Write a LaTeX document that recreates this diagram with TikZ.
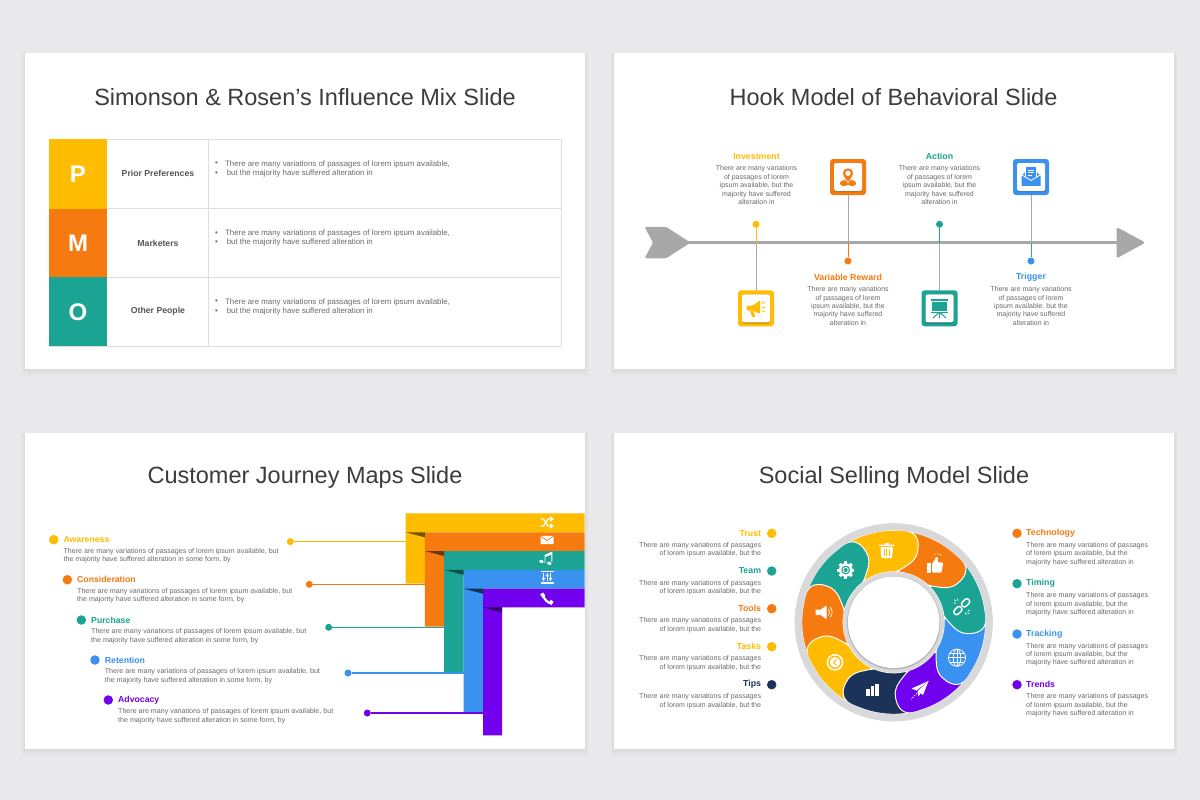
\documentclass[tikz,border=0pt]{standalone}
\usepackage{fontspec}
\setmainfont{Liberation Sans}
\usetikzlibrary{calc}
\definecolor{cY}{HTML}{FFBC00}
\definecolor{cO}{HTML}{F57A10}
\definecolor{cT}{HTML}{1BA393}
\definecolor{cB}{HTML}{3A92F0}
\definecolor{cP}{HTML}{7000EE}
\definecolor{cN}{HTML}{1B3358}
\definecolor{cG}{HTML}{A8A8A8}
\definecolor{cBody}{HTML}{6A6A6F}
\definecolor{cHead}{HTML}{3C3C3E}
\definecolor{cLab}{HTML}{55555A}
\definecolor{cRule}{HTML}{DEDEE0}
\definecolor{cPage}{HTML}{E9E8EA}
\definecolor{cRing}{HTML}{D9D9DB}
\tikzset{
  title/.style={inner sep=0pt,anchor=center,text=cHead,font=\fontsize{23.5}{28}\selectfont},
  letter/.style={inner sep=0pt,text=white,font=\bfseries\fontsize{24}{26}\selectfont},
  rowlab/.style={inner sep=0pt,text=cLab,font=\bfseries\fontsize{8.7}{11}\selectfont},
  rowtxt/.style={inner sep=0pt,anchor=west,text=cBody,font=\fontsize{7.85}{9.3}\selectfont},
  hooktxt/.style={inner sep=0pt,align=center,text=cBody,font=\fontsize{7}{8.45}\selectfont},
  hookhead/.style={inner sep=0pt,font=\bfseries\fontsize{8.8}{11}\selectfont},
  hookbox/.style={rounded corners=3pt,minimum size=36pt,inner sep=0pt},
  hookin/.style={fill=white,rounded corners=1.5pt,minimum size=28pt,inner sep=0pt},
  dot/.style={circle,inner sep=0pt,minimum size=#1},
  dot/.default=7pt,
  jhead/.style={inner sep=0pt,anchor=west,font=\bfseries\fontsize{8.7}{11}\selectfont},
  jtxt/.style={inner sep=0pt,anchor=west,align=left,text=cBody,font=\fontsize{7.1}{8.7}\selectfont},
  shead/.style={inner sep=0pt,font=\bfseries\fontsize{8.8}{11}\selectfont},
  stxtl/.style={inner sep=0pt,anchor=east,align=right,text=cBody,font=\fontsize{7.05}{8.4}\selectfont},
  stxtr/.style={inner sep=0pt,anchor=west,align=left,text=cBody,font=\fontsize{7.05}{8.4}\selectfont},
}
% slide card with a soft shadow
\newcommand\card[4]{%
  \foreach \o/\k in {8/3,6/4,4/5,2/6}{\fill[black,opacity=.003*\k] (#1-\o/2,#2) rectangle (#3+\o/2,#4+\o);}
  \fill[white] (#1,#2) rectangle (#3,#4);}
% petal of the ring
\def\rc{893.7}\def\rd{622.3}
\newcommand\petalpath[1]{%
  plot[domain=-38:3,samples=24] ({\rc+92*cos(\x+#1-90)},{\rd+92*sin(\x+#1-90)})
  -- plot[smooth,tension=.7] coordinates {
   ({\rc+92*cos(3+#1-90)},{\rd+92*sin(3+#1-90)})
   ({\rc+92*cos(10+#1-90)},{\rd+92*sin(10+#1-90)})
   ({\rc+87*cos(15.5+#1-90)},{\rd+87*sin(15.5+#1-90)})
   ({\rc+76*cos(18.5+#1-90)},{\rd+76*sin(18.5+#1-90)})
   ({\rc+65*cos(17.5+#1-90)},{\rd+65*sin(17.5+#1-90)})
   ({\rc+54.5*cos(9+#1-90)},{\rd+54.5*sin(9+#1-90)})
   ({\rc+50.5*cos(2+#1-90)},{\rd+50.5*sin(2+#1-90)})}
  -- plot[domain=2:-34,samples=20] ({\rc+50.5*cos(\x+#1-90)},{\rd+50.5*sin(\x+#1-90)}) -- cycle}
\newcommand\petal[2]{\fill[#2,draw=white,line width=1pt,line join=round] \petalpath{#1};}
% icons
\newcommand\icoShuffle[1]{\begin{scope}[shift={#1},white,line width=1.3pt]
  \draw (-6.5,-3.5)--(-3.5,-3.5)--(1,3.5)--(3.5,3.5);
  \draw (-6.5,3.5)--(-3.5,3.5)--(1,-3.5)--(3.5,-3.5);
  \fill (3,-6.3)--(6.8,-3.5)--(3,-.8)--cycle;
  \fill (3,.8)--(6.8,3.5)--(3,6.3)--cycle;
\end{scope}}
\newcommand\icoMail[1]{\begin{scope}[shift={#1}]
  \fill[white,rounded corners=.5pt] (-6.5,-4.2) rectangle (6.5,4.2);
  \draw[cO,line width=.7pt] (-6.5,-4)--(0,.6)--(6.5,-4);
\end{scope}}
\newcommand\icoMusic[1]{\begin{scope}[shift={#1},white]
  \fill[rotate=-15] (-4.5,4.8) ellipse (2.2 and 1.6);
  \fill[rotate=-15] (3.6,4.5) ellipse (2.2 and 1.6);
  \fill (-2.5,5) -- (-2.5,-3) -- (5.3,-6.5) -- (5.3,3.5) -- (4.4,3.5) -- (4.4,-3.5) -- (-1.6,-1) -- (-1.6,5) -- cycle;
\end{scope}}
\newcommand\icoSliders[1]{\begin{scope}[shift={#1},white]
  \fill (-6.5,5) rectangle (6.5,6.6);
  \draw[line width=.6pt] (-6.5,-6)--(6.5,-6);
  \draw[line width=.9pt] (-3.5,-4.5)--(-3.5,4) (0,-4.5)--(0,4) (3.5,-4.5)--(3.5,4);
  \fill (-5,.5) rectangle (-2,2) (-1.5,-2.5) rectangle (1.5,-1) (2,.5) rectangle (5,2);
\end{scope}}
\newcommand\icoPhone[1]{\begin{scope}[shift={#1},white]
  \draw[line width=2.2pt] (-4,-4.5) .. controls (-3,.5) and (.5,4) .. (5,4.5);
  \fill[rotate around={35:(-4,-4)}] (-6,-6) rectangle (-2.5,-2);
  \fill[rotate around={55:(4,4)}] (2.5,2) rectangle (6.5,5.5);
\end{scope}}
\newcommand\icoTrash[1]{\begin{scope}[shift={#1},white]
  \fill[rounded corners=.5pt] (-7.5,-5.5) rectangle (7.5,-3.8);
  \fill (-2.2,-5.5) rectangle (2.2,-7.5);
  \fill[rounded corners=1pt] (-6.3,-2.8) -- (6.3,-2.8) -- (5.3,8) -- (-5.3,8) -- cycle;
  \draw[cY,line width=.9pt] (-2.6,-.8)--(-2.6,6) (0,-.8)--(0,6) (2.6,-.8)--(2.6,6);
\end{scope}}
\newcommand\icoThumb[1]{\begin{scope}[shift={#1},white]
  \fill (-8,-1.5) rectangle (-3.6,8);
  \fill[rounded corners=1pt] (-2.8,-1.5) -- (0,-4.5) -- (.8,-8) -- (3,-7) -- (2.6,-2.2) -- (7.8,-2.2) -- (7.8,1) -- (6.5,8) -- (-2.8,8) -- cycle;
  \draw[line width=.7pt] (-.3,-11)--(.2,-9.5) (3,-11.5)--(3,-9.8) (5.8,-10.5)--(4.8,-9.2);
\end{scope}}
\newcommand\icoLink[1]{\begin{scope}[shift={#1},white,line width=1.5pt]
  \begin{scope}[rotate=45]
  \draw[rounded corners=2.5pt] (-10,-2.8) rectangle (-1,2.8);
  \draw[rounded corners=2.5pt] (1,-2.8) rectangle (10,2.8);
  \end{scope}
  \draw[line width=.7pt] (-8,-4)--(-6,-3.2) (-4.5,-8)--(-3.6,-5.8) (-7.5,-7)--(-5.8,-5.4) (8,4)--(6,3.2) (4.5,8)--(3.6,5.8) (7.5,7)--(5.8,5.4);
\end{scope}}
\newcommand\icoGlobe[1]{\begin{scope}[shift={#1},white,line width=.75pt]
  \draw (0,0) circle (8.6);
  \draw (0,0) ellipse (3.8 and 8.6);
  \draw (-8.6,0)--(8.6,0) (0,-8.6)--(0,8.6) (-7.4,-4.2)--(7.4,-4.2) (-7.4,4.2)--(7.4,4.2);
\end{scope}}
\newcommand\icoPlane[1]{\begin{scope}[shift={#1},white]
  \fill (8.5,-9) -- (-8.5,-1.5) -- (-3.5,.5) -- cycle;
  \fill (8.5,-9) -- (-2.5,1.2) -- (-1.6,6.5) -- cycle;
  \fill (8.5,-9) -- (-1,2) -- (3,5) -- cycle;
  \draw[line width=.6pt,dash pattern=on 1.6pt off 1pt] (-3,3)--(-9,9.5);
\end{scope}}
\newcommand\icoBars[1]{\begin{scope}[shift={#1},white]
  \fill (-6.3,-1.5) rectangle (-2.8,5.8);
  \fill (-1.7,-3.8) rectangle (1.8,5.8);
  \fill (2.9,-6) rectangle (6.4,5.8);
\end{scope}}
\newcommand\icoDial[1]{\begin{scope}[shift={#1}]
  \draw[white,line width=1.5pt] (0,0) circle (7.6);
  \fill[white] (0,0) circle (5.3);
  \draw[cY,line width=.9pt] (1.5,-2.8)--(-1.5,0)--(1.5,2.8);
\end{scope}}
\newcommand\icoSpeak[1]{\begin{scope}[shift={#1},white]
  \fill[rounded corners=.6pt] (-9.5,-2.8) -- (-4,-2.8) -- (1.5,-7) -- (1.5,7) -- (-4,2.8) -- (-9.5,2.8) -- cycle;
  \draw[line width=.7pt] (3.5,-3.2) .. controls (5,-1.5) and (5,1.5) .. (3.5,3.2);
  \draw[line width=.7pt] (5.2,-5) .. controls (7.8,-2) and (7.8,2) .. (5.2,5);
\end{scope}}
\newcommand\icoGear[1]{\begin{scope}[shift={#1}]
  \fill[white] (0,0) circle (6.8);
  \foreach \a in {0,45,...,315}{\fill[white,rotate=\a] (-1.5,-8.6) rectangle (1.5,-5);}
  \fill[cT] (0,0) circle (4.4);
  \draw[white,line width=.9pt] (0,0) circle (2.6);
\end{scope}}
\newcommand\icoHorn[1]{\begin{scope}[shift={#1},cY]
  \fill[rounded corners=.8pt] (-9.3,-3) -- (-3,-3) -- (4,-8.3) -- (4,5.5) -- (-3,2) -- (-9.3,2) -- cycle;
  \fill (-6,2) -- (-2.6,2) -- (-.8,8.3) -- (-4,8.3) -- cycle;
  \draw[line width=.9pt] (5.5,-1.5)--(9.3,-1.5);
  \draw[line width=.8pt] (5.5,-5)--(8.8,-6.2) (5.5,2)--(8.8,3.2);
\end{scope}}
\newcommand\icoPin[1]{\begin{scope}[shift={#1}]
  \fill[cO] (-8,6.5) .. controls (-8,3.5) and (-4,3) .. (-2,3) -- (2,3) .. controls (4,3) and (8,3.5) .. (8,6.5) .. controls (8,9.5) and (3,9.5) .. (0,7.8) .. controls (-3,9.5) and (-8,9.5) .. (-8,6.5) -- cycle;
  \fill[cO,draw=white,line width=.6pt] (0,5.8) .. controls (-3,1.5) and (-5.3,-1) .. (-5.3,-3.7) .. controls (-5.3,-10.8) and (5.3,-10.8) .. (5.3,-3.7) .. controls (5.3,-1) and (3,1.5) .. (0,5.8) -- cycle;
  \fill[white] (0,-3.7) circle (2.6);
\end{scope}}
\newcommand\icoBoard[1]{\begin{scope}[shift={#1},cT]
  \fill (-8.5,-9) rectangle (8.5,-7);
  \fill (-7.5,-6.5) rectangle (7.5,3);
  \fill (-8.5,3.5) rectangle (8.5,5);
  \draw[line width=1pt] (0,5)--(0,10) (-1,5)--(-6.5,10) (1,5)--(6.5,10);
\end{scope}}
\newcommand\icoOpen[1]{\begin{scope}[shift={#1},cB]
  \fill (-9,-1.5) -- (-5,-4.8) -- (5,-4.8) -- (9,-1.5) -- (9,9) -- (-9,9) -- cycle;
  \fill[white] (-6,-10) rectangle (6,3);
  \fill (-5.2,-9.2) rectangle (5.2,3);
  \draw[white,line width=.8pt] (-3,-6.5)--(3,-6.5) (-3,-4)--(3,-4) (-3,-1.5)--(1,-1.5);
  \fill[cB] (-9.5,-1) -- (0,4.5) -- (9.5,-1) -- (9.5,9.3) -- (-9.5,9.3) -- cycle;
  \draw[white,line width=.8pt] (-9,-1.5)--(0,4)--(9,-1.5);
\end{scope}}
\newcommand\txtA{There are many variations\\of passages of lorem\\ipsum available, but the\\majority have suffered\\alteration in}
\newcommand\txtB{There are many variations of passages of lorem ipsum available, but\\the majority have suffered alteration in some form, by}
\newcommand\txtC{There are many variations of passages\\of lorem ipsum available, but the}
\newcommand\txtD{There are many variations of passages\\of lorem ipsum available, but the\\majority have suffered alteration in}
\begin{document}
\begin{tikzpicture}[x=1pt,y=-1pt]
\useasboundingbox (0,0) rectangle (1200,800);
\fill[cPage] (0,0) rectangle (1200,800);
\card{25}{53}{585}{369}
\card{614}{53}{1174}{369}
\card{25}{433}{585}{749}
\card{614}{433}{1174}{749}
\node[title] (t1) at (305,97) {Simonson \& Rosen's Influence Mix Slide};
\node[title] (t2) at (893.5,97) {Hook Model of Behavioral Slide};
\node[title] (t3) at (305,477) {Customer Journey Maps Slide};
\node[title] (t4) at (894,477) {Social Selling Model Slide};
% ---------- table
\draw[cRule,line width=.9pt] (107,139.3)--(561,139.3)--(561,346)--(49,346) (107,208.7)--(561,208.7) (107,277.3)--(561,277.3) (208.7,139.3)--(208.7,346);
\fill[cY] (49,139.3) rectangle (107,208.7);
\fill[cO] (49,208.7) rectangle (107,277.3);
\fill[cT] (49,277.3) rectangle (107,346);
\node[letter] (lp) at (78,174) {P};
\node[letter] (lm) at (78,243) {M};
\node[letter] (lo) at (78,312) {O};
\node[rowlab] (r1) at (158,173.7) {Prior Preferences};
\node[rowlab] (r2) at (158,243) {Marketers};
\node[rowlab] (r3) at (158,311.7) {Other People};
\foreach \yy/\nm in {164/a,233.3/b,302/c}{
  \node[rowtxt] (ba\nm) at (215,\yy) {•};
  \node[rowtxt] (ta\nm) at (225,\yy) {There are many variations of passages of lorem ipsum available,};
  \node[rowtxt] (bb\nm) at (215,\yy+9.3) {•};
  \node[rowtxt] (tb\nm) at (226.6,\yy+9.3) {but the majority have suffered alteration in};
}
% ---------- hook model
\coordinate (axL) at (680,242.6);
\coordinate (axR) at (1125,242.6);
\fill[cG,rounded corners=1.5pt] (644.5,226.8) -- (666,226.8) -- (690.5,242.6) -- (666,258.4) -- (644.5,258.4) -- (653,242.6) -- cycle;
\fill[cG,rounded corners=2.5pt] (1116.5,227) -- (1145.5,242.6) -- (1116.5,258.4) -- cycle;
\draw[cG,line width=2.4pt] (axL)--(axR);
\node[hookbox,fill=cY] (bI) at (756,308.3) {};
\node[hookbox,fill=cO] (bV) at (848,177) {};
\node[hookbox,fill=cT] (bA) at (939.5,308.3) {};
\node[hookbox,fill=cB] (bT) at (1031,177) {};
\node[dot] (dI) at (756,224.3) [fill=cY] {};
\node[dot] (dV) at (848,261) [fill=cO] {};
\node[dot] (dA) at (939.5,224.3) [fill=cT] {};
\node[dot] (dT) at (1031,261) [fill=cB] {};
\draw[cY,line width=1pt] (dI)--(dI|-axL);
\draw[cG,line width=1pt] (dI|-axL)--(bI);
\draw[cO,line width=1pt] (dV)--(dV|-axL);
\draw[cG,line width=1pt] (dV|-axL)--(bV);
\draw[cT,line width=1pt] (dA)--(dA|-axL);
\draw[cG,line width=1pt] (dA|-axL)--(bA);
\draw[cB,line width=1pt] (dT)--(dT|-axL);
\draw[cG,line width=1pt] (dT|-axL)--(bT);
\foreach \nm/\col in {bI/cY,bV/cO,bA/cT,bT/cB}{
  \fill[\col!75!black,rounded corners=1.5pt] ($(\nm)+(-14,-14)$) rectangle ($(\nm)+(14,15.2)$);
  \node[hookin] (in\nm) at (\nm) {};
}
\icoHorn{(756,308.5)}
\icoPin{(848,177)}
\icoBoard{(939.5,308)}
\icoOpen{(1031,176.5)}
\node[hookhead,text=cY] (hI) at (756.5,156.6) {Investment};
\node[hooktxt] (xI) at (756.5,185.3) {\txtA};
\node[hookhead,text=cO] (hV) at (848,277) {Variable Reward};
\node[hooktxt] (xV) at (848,306) {\txtA};
\node[hookhead,text=cT] (hA) at (939.5,156.6) {Action};
\node[hooktxt] (xA) at (939.5,185.3) {\txtA};
\node[hookhead,text=cB] (hT) at (1031,277) {Trigger};
\node[hooktxt] (xT) at (1031,306) {\txtA};
% ---------- journey
\fill[cY] (405.7,513.3) rectangle (584.6,532.3) (405.7,532.3) rectangle (424.8,583.7);
\fill[cO] (424.8,532.3) rectangle (584.6,551) (424.8,551) rectangle (444,626.7);
\fill[cT] (444,551) rectangle (584.6,569.8) (444,569.8) rectangle (463.6,672);
\fill[cB] (463.6,569.8) rectangle (584.6,588.7) (463.6,588.7) rectangle (483,712.3);
\fill[cP] (483,588.7) rectangle (584.6,607.4) (483,607.4) rectangle (502,735.3);
\fill[cY!45!black] (405.7,532.3)--(424.8,532.3)--(424.8,537.3)--cycle;
\fill[cO!45!black] (424.8,551)--(444,551)--(444,556)--cycle;
\fill[cT!50!black] (444,569.8)--(463.6,569.8)--(463.6,574.8)--cycle;
\fill[cB!35!black] (463.6,588.7)--(483,588.7)--(483,593.7)--cycle;
\fill[cP!45!black] (483,607.4)--(502,607.4)--(502,612.4)--cycle;
\coordinate (eY) at (405.7,541.6);
\coordinate (eO) at (424.8,584.3);
\coordinate (eT) at (444,627.3);
\coordinate (eB) at (463.6,673);
\coordinate (eP) at (483,713);
\node[dot] (cdY) at (290.3,541.6) [fill=cY] {};
\node[dot] (cdO) at (309.3,584.3) [fill=cO] {};
\node[dot] (cdT) at (328.7,627.3) [fill=cT] {};
\node[dot] (cdB) at (348,673) [fill=cB] {};
\node[dot] (cdP) at (367.3,713) [fill=cP] {};
\draw[cY,line width=1.1pt] (cdY)--(eY);
\draw[cO,line width=1.1pt] (cdO)--(eO);
\draw[cT,line width=1.1pt] (cdT)--(eT);
\draw[cB,line width=1.1pt] (cdB)--(eB);
\draw[cP,line width=1.1pt] (cdP)--(eP);
\icoShuffle{(547,522.5)}
\icoMail{(547,540)}
\icoMusic{(547,558)}
\icoSliders{(547,577.3)}
\icoPhone{(547,599)}
\foreach \nm/\col/\dx/\yy/\lab in {a/cY/53.7/539.7/Awareness,b/cO/67.3/579.7/Consideration,c/cT/81.3/620/Purchase,d/cB/95/660/Retention,e/cP/108.3/700/Advocacy}{
  \node[dot=9.5pt,fill=\col] (jd\nm) at (\dx,\yy) {};
  \node[jhead,text=\col] (jh\nm) at (\dx+9.7,\yy) {\lab};
  \node[jtxt] (jt\nm) at (\dx+9.7,\yy+15.9) {\txtB};
}
% ---------- ring
\fill[cRing] (\rc,\rd) circle (99);
\fill[white] (\rc,\rd) circle (92.6);
\petal{0}{cY}
\petal{320}{cT}
\petal{280}{cO}
\petal{240}{cY}
\petal{200}{cN}
\petal{160}{cP}
\petal{120}{cB}
\petal{80}{cT}
\petal{40}{cO}
\begin{scope}
  \clip (884,520) rectangle (1000,600);
  \petal{0}{cY}
\end{scope}
\draw[cRing,line width=7pt] (\rc,\rd) circle (95.4);
\fill[cRing] (\rc,\rd) circle (50.5);
\fill[black!30] (\rc,\rd+.6) circle (46.6);
\fill[white] (\rc,\rd) circle (45.8);
\icoTrash{(886.7,550)}
\icoThumb{(935,564.5)}
\icoLink{(961.7,606.7)}
\icoGlobe{(957,657.7)}
\icoPlane{(920,690)}
\icoBars{(872.3,690)}
\icoDial{(835,662.3)}
\icoSpeak{(825,612.3)}
\icoGear{(845.7,570)}
\foreach \nm/\col/\yy/\lab in {a/cY/533.3/Trust,b/cT/571/Team,c/cO/608.7/Tools,d/cY/646.7/Tasks,e/cN/684.7/Tips}{
  \node[dot=9.5pt,fill=\col] (ld\nm) at (771.7,\yy) {};
  \node[shead,anchor=east,text=\col] (lh\nm) at (761.3,\yy) {\lab};
  \node[stxtl] (lt\nm) at (761.3,\yy+16.5) {\txtC};
}
\foreach \nm/\col/\yy/\lab in {a/cO/533.3/Technology,b/cT/583.7/Timing,c/cB/634/Tracking,d/cP/684.7/Trends}{
  \node[dot=9.5pt,fill=\col] (rd\nm) at (1017,\yy) {};
  \node[shead,anchor=west,text=\col] (rh\nm) at (1026,\yy) {\lab};
  \node[stxtr] (rt\nm) at (1026,\yy+20.7) {\txtD};
}
\end{tikzpicture}
\end{document}
